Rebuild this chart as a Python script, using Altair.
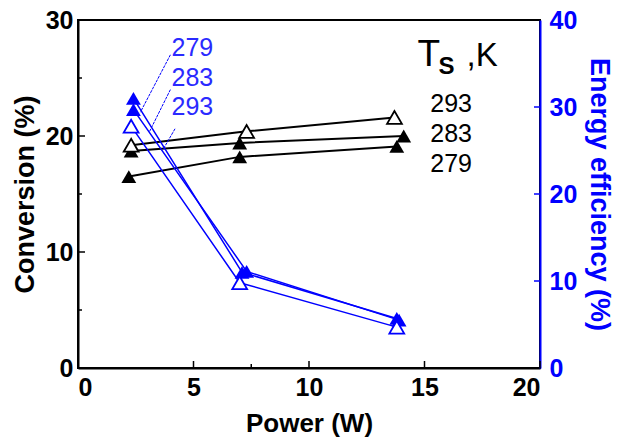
import altair as alt
import pandas as pd

# ---------------- data ----------------
series = ["293", "283", "279"]
power = {
    "293": [2.3, 7.3, 13.7],
    "283": [2.3, 7.0, 14.1],
    "279": [2.2, 7.0, 13.8],
}
conversion = {
    "293": [19.2, 20.4, 21.6],
    "283": [18.7, 19.4, 20.0],
    "279": [16.5, 18.2, 19.1],
}
eff_power = {
    "279": [2.4, 7.1, 13.8],
    "283": [2.4, 7.3, 13.9],
    "293": [2.3, 7.0, 13.8],
}
efficiency = {
    "279": [31.0, 11.0, 5.7],
    "283": [29.7, 11.1, 5.5],
    "293": [27.8, 9.8, 4.7],
}
filled_series = ["283", "279"]

# annotation labels
blue_labels = ["279", "283", "293"]
blue_label_x = [4.05, 4.05, 4.05]
blue_label_y = [36.8, 33.3, 30.0]
lead_x1 = [4.0, 4.0, 4.2]
lead_y1 = [36.0, 32.0, 27.5]
lead_x2 = [2.7, 3.1, 3.7]
lead_y2 = [29.4, 27.2, 25.2]

black_labels = ["293", "283", "279"]
black_label_x = [15.25, 15.25, 15.25]
black_label_y = [22.8, 20.2, 17.6]

x_major = [0, 5, 10, 15, 20]
x_minor = [7.5]
yl_major = [0, 10, 20, 30]
yl_minor = [5, 15, 25]
yr_major = [10, 20, 30]

BLUE = "#0000ff"
FONT = "Liberation Sans"

rows = []
for s in series:
    for p, v in zip(power[s], conversion[s]):
        rows.append({"power": p, "val": v, "series": s, "filled": s in filled_series})
conv_df = pd.DataFrame(rows)
rows = []
for s in series:
    for p, v in zip(eff_power[s], efficiency[s]):
        rows.append({"power": p, "val": v, "series": s, "filled": s in filled_series})
eff_df = pd.DataFrame(rows)

xs = alt.Scale(domain=[0, 20], nice=False)
yl = alt.Scale(domain=[0, 30], nice=False)
yr = alt.Scale(domain=[0, 40], nice=False)

AX_X = alt.Axis(
    title="Power (W)", values=x_major, ticks=False, grid=False,
    labelFont=FONT, labelFontSize=25, labelFontWeight="bold", labelColor="black",
    labelPadding=7, domainColor="black", domainWidth=2,
    titleFont=FONT, titleFontSize=26, titleFontWeight="bold", titleColor="black",
    titlePadding=10)
AX_L = alt.Axis(
    title="Conversion (%)", values=yl_major, ticks=False, grid=False,
    labelFont=FONT, labelFontSize=25, labelFontWeight="bold", labelColor="black",
    labelPadding=5, domainColor="black", domainWidth=2,
    titleFont=FONT, titleFontSize=27, titleFontWeight="bold", titleColor="black",
    titlePadding=6)
AX_R = alt.Axis(
    orient="right", title="Energy  efficiency (%)", values=[0, 10, 20, 30, 40],
    ticks=False, grid=False,
    labelFont=FONT, labelFontSize=25, labelFontWeight="bold", labelColor=BLUE,
    labelPadding=9, domainColor=BLUE, domainWidth=2,
    titleFont=FONT, titleFontSize=27, titleFontWeight="bold", titleColor=BLUE,
    titlePadding=8)


def XE(f):
    return alt.X(f, scale=xs, axis=AX_X)


def YL(f):
    return alt.Y(f, scale=yl, axis=AX_L)


def YR(f):
    return alt.Y(f, scale=yr, axis=AX_R)


MSIZE = 220

# ---------- black (left axis) ----------
conv_line = alt.Chart(conv_df).mark_line(color="black", strokeWidth=2).encode(
    x=XE("power:Q"), y=YL("val:Q"), detail="series:N")
conv_filled = alt.Chart(conv_df).transform_filter("datum.filled").mark_point(
    shape="triangle-up", filled=True, color="black", size=MSIZE, opacity=1
).encode(x=XE("power:Q"), y=YL("val:Q"))
conv_open = alt.Chart(conv_df).transform_filter("!datum.filled").mark_point(
    shape="triangle-up", filled=True, fill="white", stroke="black", strokeWidth=1.8,
    size=MSIZE, opacity=1
).encode(x=XE("power:Q"), y=YL("val:Q"))

bl_df = pd.DataFrame({"x": black_label_x, "y": black_label_y, "t": black_labels})
black_text = alt.Chart(bl_df).mark_text(
    font=FONT, fontSize=25, color="black", align="left", baseline="middle"
).encode(x=XE("x:Q"), y=YL("y:Q"), text="t:N")

ts_df = pd.DataFrame({"x": [14.7], "y": [26.0]})
t_big = alt.Chart(ts_df).mark_text(
    font=FONT, fontSize=37, color="black", align="left", baseline="alphabetic", text="T"
).encode(x=XE("x:Q"), y=YL("y:Q"))
t_sub = alt.Chart(ts_df).mark_text(
    font=FONT, fontSize=24, fontWeight="bold", color="black", align="left",
    baseline="alphabetic", text="S", dx=21, dy=8
).encode(x=XE("x:Q"), y=YL("y:Q"))
t_k = alt.Chart(ts_df).mark_text(
    font=FONT, fontSize=33, color="black", align="left", baseline="alphabetic", text=",K",
    dx=49
).encode(x=XE("x:Q"), y=YL("y:Q"))

lm_df = pd.DataFrame({"v": yl_major})
ln_df = pd.DataFrame({"v": yl_minor})
yl_tick_major = alt.Chart(lm_df).mark_rule(color="black", strokeWidth=1.5).encode(
    y=YL("v:Q"), x=alt.value(0), x2=alt.value(7))
yl_tick_minor = alt.Chart(ln_df).mark_rule(color="black", strokeWidth=1.5).encode(
    y=YL("v:Q"), x=alt.value(0), x2=alt.value(4))
xm_df = pd.DataFrame({"v": x_major})
xn_df = pd.DataFrame({"v": x_minor})
x_tick_major = alt.Chart(xm_df).mark_rule(color="black", strokeWidth=1.5).encode(
    x=XE("v:Q"), y=alt.value(348), y2=alt.value(341))
x_tick_minor = alt.Chart(xn_df).mark_rule(color="black", strokeWidth=1.5).encode(
    x=XE("v:Q"), y=alt.value(348), y2=alt.value(344))

black = alt.layer(conv_line, yl_tick_major, yl_tick_minor, x_tick_major, x_tick_minor,
                  conv_filled, conv_open, black_text, t_big, t_sub, t_k)

# ---------- blue (right axis) ----------
eff_line = alt.Chart(eff_df).mark_line(color=BLUE, strokeWidth=1.5).encode(
    x=XE("power:Q"), y=YR("val:Q"), detail="series:N")
eff_filled = alt.Chart(eff_df).transform_filter("datum.filled").mark_point(
    shape="triangle-up", filled=True, color=BLUE, size=MSIZE, opacity=1
).encode(x=XE("power:Q"), y=YR("val:Q"))
eff_open = alt.Chart(eff_df).transform_filter("!datum.filled").mark_point(
    shape="triangle-up", filled=True, fill="white", stroke=BLUE, strokeWidth=1.8,
    size=MSIZE, opacity=1
).encode(x=XE("power:Q"), y=YR("val:Q"))

lead_df = pd.DataFrame({"x": lead_x1, "y": lead_y1, "x2": lead_x2, "y2": lead_y2})
leaders = alt.Chart(lead_df).mark_rule(color=BLUE, strokeWidth=1, strokeDash=[3, 1]).encode(
    x=XE("x:Q"), y=YR("y:Q"), x2="x2:Q", y2="y2:Q")
blab_df = pd.DataFrame({"x": blue_label_x, "y": blue_label_y, "t": blue_labels})
blue_text = alt.Chart(blab_df).mark_text(
    font=FONT, fontSize=25, color="#2a2aff", align="left", baseline="middle"
).encode(x=XE("x:Q"), y=YR("y:Q"), text="t:N")

rm_df = pd.DataFrame({"v": yr_major})
yr_tick = alt.Chart(rm_df).mark_rule(color=BLUE, strokeWidth=1.5).encode(
    y=YR("v:Q"), x=alt.value(462), x2=alt.value(456))

blue = alt.layer(eff_line, leaders, yr_tick, eff_filled, eff_open, blue_text)

chart = alt.layer(black, blue).resolve_scale(y="independent").properties(
    width=462, height=348,
    padding={"left": 78, "top": 20, "right": 80, "bottom": 77},
    autosize=alt.AutoSizeParams(type="none"),
    background="white",
).configure_view(stroke="black", strokeWidth=2)

chart.save("out.html", embed_options={"renderer": "svg", "actions": False})
